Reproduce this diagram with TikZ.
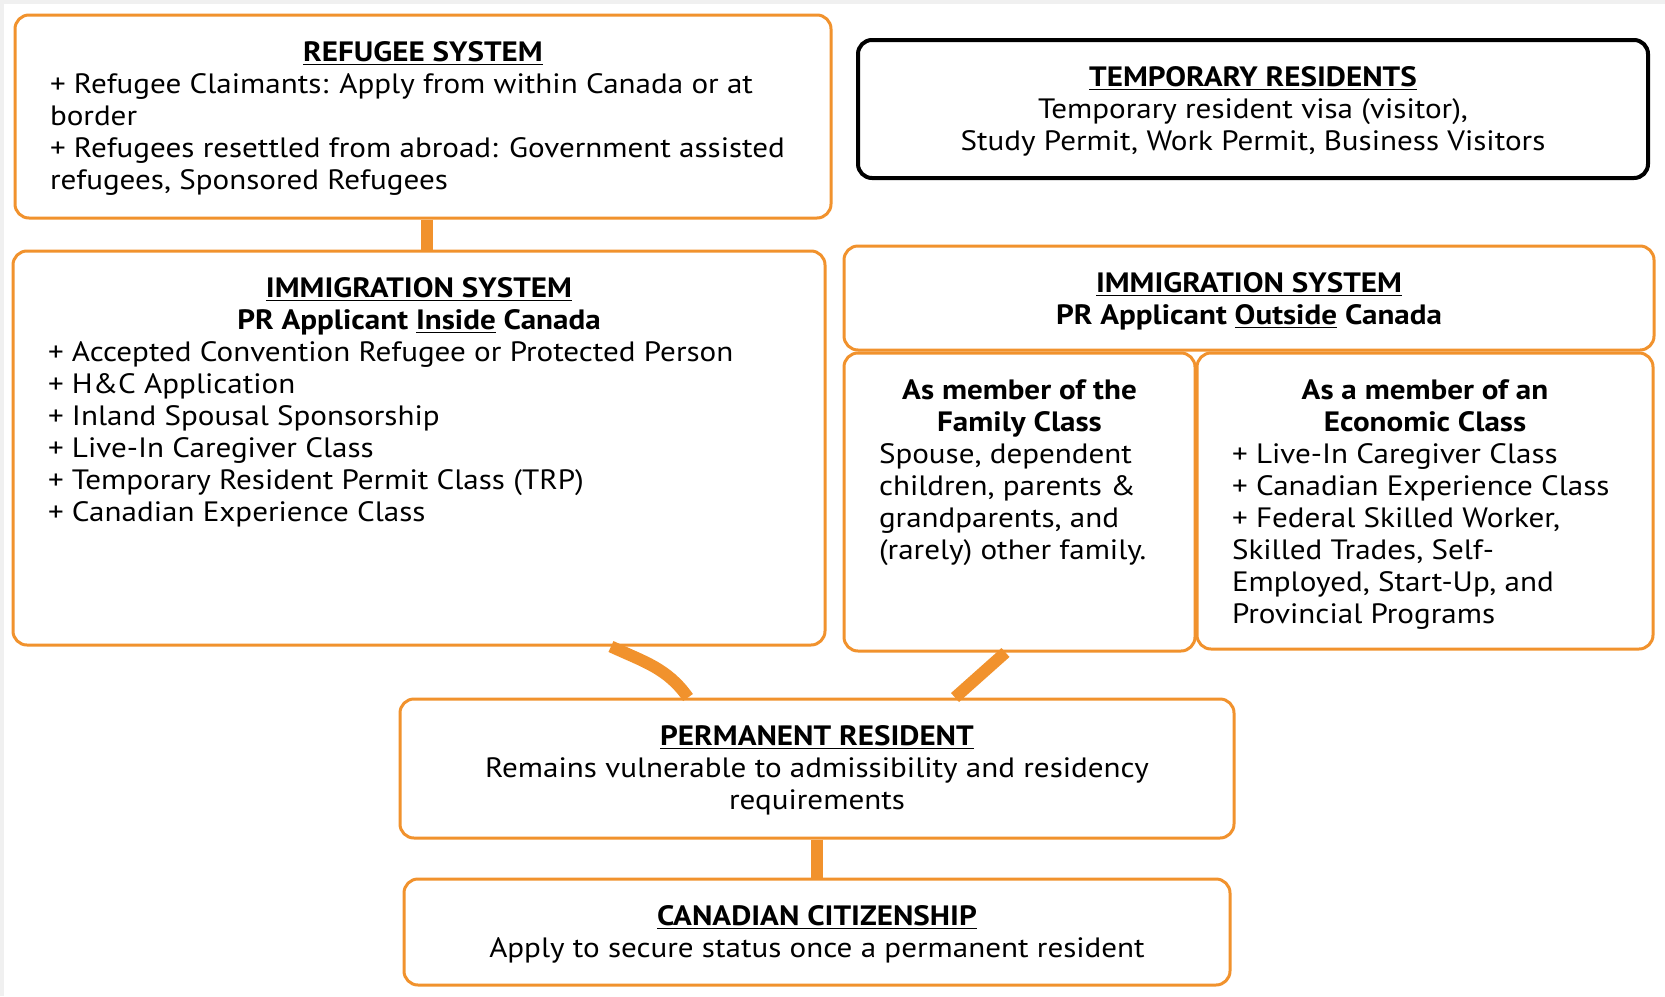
\documentclass[tikz,border=0pt]{standalone}
\usepackage{fontspec}
\setmainfont{PT Sans}[FakeStretch=1.11]
\definecolor{boxorange}{RGB}{241,146,45}
\definecolor{pagegray}{RGB}{240,240,240}
% box contents: width, height, text (first baseline 23pt below the top)
\newcommand{\boxtext}[3]{\begin{minipage}[t][#2][t]{#1}\fontsize{14pt}{16pt}\selectfont\raggedright\rule{0pt}{23pt}#3\end{minipage}}
\newcommand{\boxtitle}[1]{{\centering\textbf{\underline{#1}}\par}}

\begin{document}
\begin{tikzpicture}[x=0.5pt,y=-0.5pt]
  \tikzstyle{pbox}=[draw=boxorange,line width=1.5pt,rounded corners=7pt,fill=white,inner xsep=17.5pt,inner ysep=0pt]
  \tikzstyle{tbox}=[pbox,draw=black,line width=2pt]
  \tikzstyle{link}=[draw=boxorange,line width=6pt]
  \useasboundingbox (0,0) rectangle (1665,996);
  \fill [pagegray] (0,0) rectangle (1665,996);
  \fill [white] (4,4) rectangle (1665,996);

  \node [pbox] (refugee) at (423,116.5) {\boxtext{373pt}{101.5pt}{%
    \boxtitle{REFUGEE SYSTEM}
    + Refugee Claimants: Apply from within Canada or at\\
    border\\
    + Refugees resettled from abroad: Government assisted\\
    refugees, Sponsored Refugees}};
  \node [tbox] (temp) at (1253,109) {\boxtext{360pt}{69pt}{%
    \boxtitle{TEMPORARY RESIDENTS}
    {\centering Temporary resident visa (visitor),\\
    Study Permit, Work Permit, Business Visitors\par}}};
  \node [pbox] (inside) at (419,448) {\boxtext{371pt}{197pt}{%
    \boxtitle{IMMIGRATION SYSTEM}
    {\centering\textbf{PR Applicant \underline{Inside} Canada}\par}
    + Accepted Convention Refugee or Protected Person\\
    + H\&C Application\\
    + Inland Spousal Sponsorship\\
    + Live-In Caregiver Class\\
    + Temporary Resident Permit Class (TRP)\\
    + Canadian Experience Class}};
  \node [pbox] (outside) at (1249,298) {\boxtext{370pt}{52pt}{%
    \boxtitle{IMMIGRATION SYSTEM}
    {\centering\textbf{PR Applicant \underline{Outside} Canada}\par}}};
  \node [pbox] (family) at (1019.5,502) {\boxtext{140.5pt}{149pt}{%
    {\centering\textbf{As member of the\\ Family Class}\par}
    Spouse, dependent\\
    children, parents \&\\
    grandparents, and\\
    (rarely) other family.}};
  \node [pbox] (economic) at (1425,501) {\boxtext{193pt}{148pt}{%
    {\centering\textbf{As a member of an\\ Economic Class}\par}
    + Live-In Caregiver Class\\
    + Canadian Experience Class\\
    + Federal Skilled Worker,\\
    Skilled Trades, Self-\\
    Employed, Start-Up, and\\
    Provincial Programs}};
  \node [pbox] (pr) at (817,768.5) {\boxtext{382pt}{69.5pt}{%
    \boxtitle{PERMANENT RESIDENT}
    {\centering Remains vulnerable to admissibility and residency\\
    requirements\par}}};
  \node [pbox] (citizen) at (817,932) {\boxtext{378pt}{53pt}{%
    \boxtitle{CANADIAN CITIZENSHIP}
    {\centering Apply to secure status once a permanent resident\par}}};

  \draw [link] ([xshift=2pt]refugee.south) -- ([xshift=2pt]refugee.south |- inside.north);
  \draw [link] ([xshift=96pt]inside.south) to[out=-25,in=125] ([xshift=-64.5pt]pr.north);
  \draw [link] ([xshift=-7pt]family.south) -- ([xshift=69pt]pr.north);
  \draw [link] (pr.south) -- (citizen.north);
\end{tikzpicture}
\end{document}
